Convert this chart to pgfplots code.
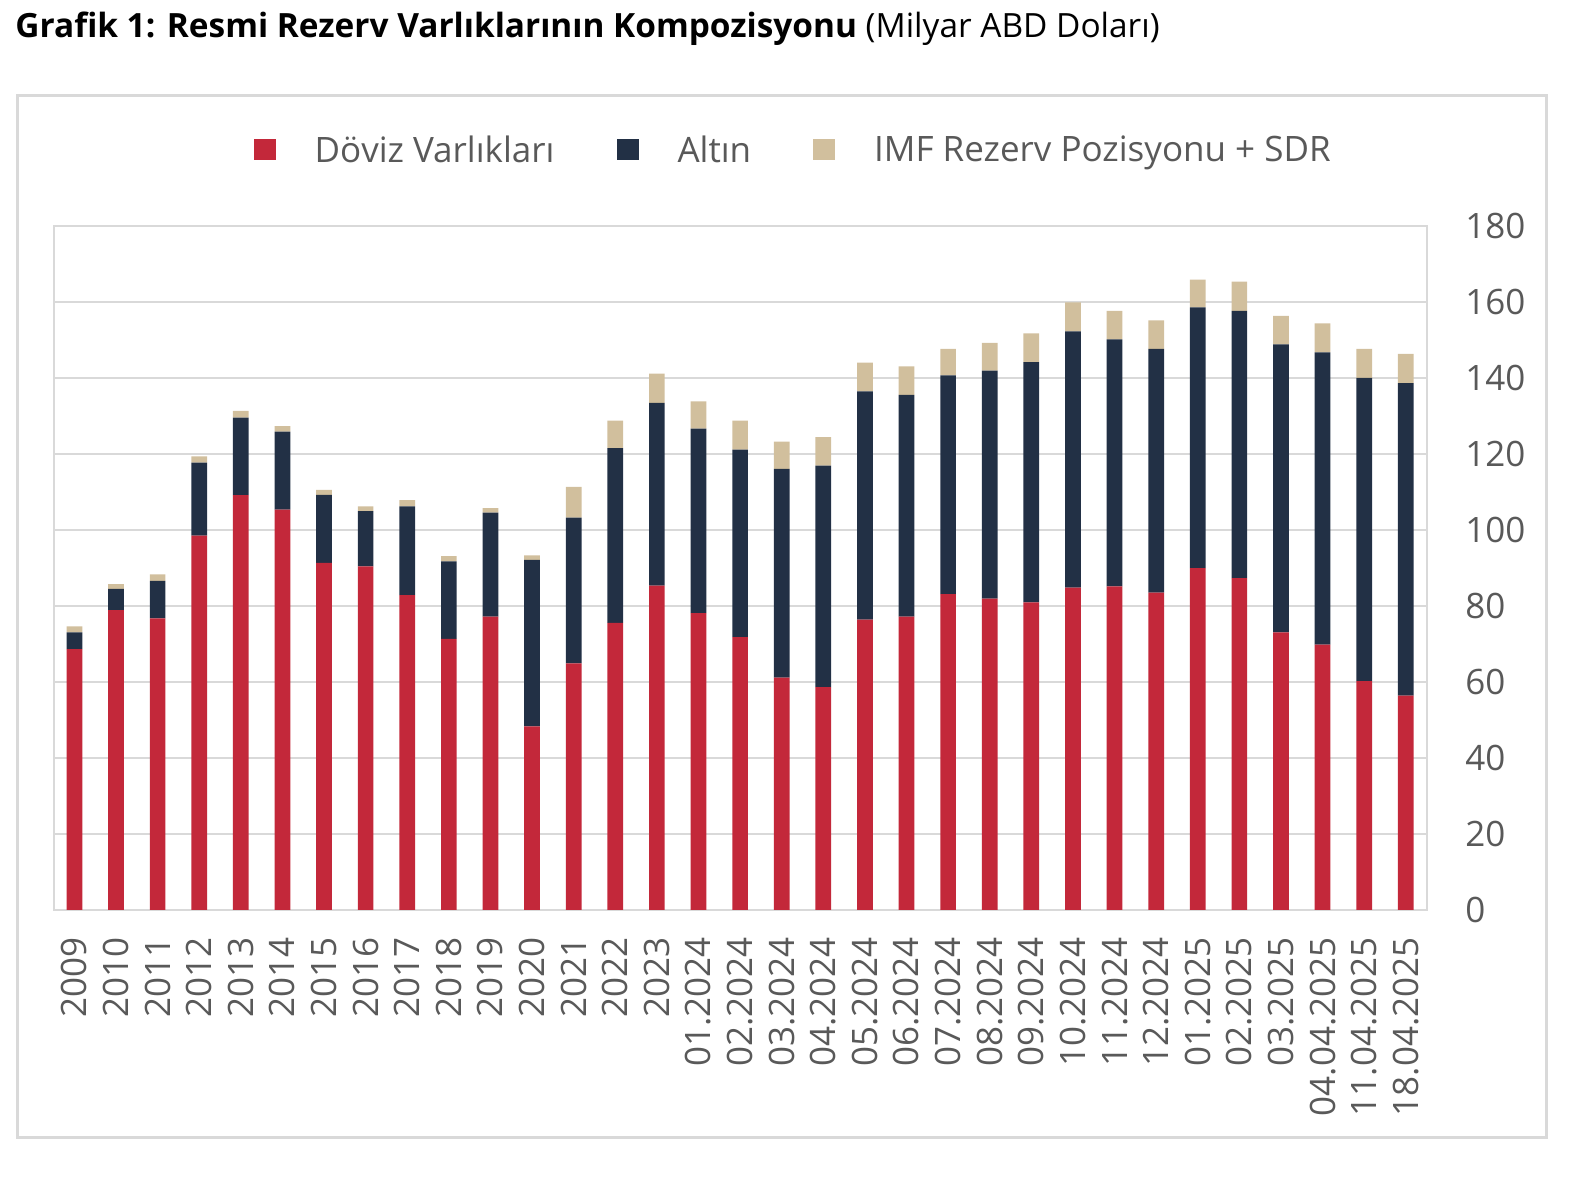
\documentclass[border=0pt]{standalone}
\usepackage{pgfplots}
\pgfplotsset{compat=1.18}
\usepackage{pgfplotstable}
\usepackage{fontspec}
\setmainfont{Open Sans}
\definecolor{cred}{HTML}{C3283A}
\definecolor{cnavy}{HTML}{223045}
\definecolor{ctan}{HTML}{D1BF9D}
\definecolor{ctext}{HTML}{595959}
\definecolor{cgrid}{HTML}{D9D9D9}
\pgfplotstableread{
idx doviz altin imf
0 68.6 4.4 1.6
1 78.9 5.6 1.2
2 76.7 9.9 1.7
3 98.5 19.2 1.6
4 109.1 20.4 1.8
5 105.3 20.5 1.5
6 91.3 17.9 1.3
7 90.4 14.5 1.3
8 82.8 23.4 1.6
9 71.3 20.4 1.4
10 77.2 27.3 1.2
11 48.3 43.8 1.2
12 64.9 38.3 8.1
13 75.5 46.0 7.2
14 85.3 48.1 7.7
15 78.1 48.5 7.2
16 71.8 49.3 7.6
17 61.1 54.9 7.2
18 58.6 58.3 7.5
19 76.4 60.0 7.6
20 77.2 58.3 7.5
21 83.1 57.5 7.0
22 81.9 60.0 7.3
23 80.9 63.2 7.6
24 84.8 67.4 7.6
25 85.1 65.0 7.5
26 83.5 64.1 7.5
27 89.9 68.6 7.3
28 87.3 70.3 7.7
29 73.0 75.8 7.5
30 69.8 76.9 7.6
31 60.2 79.8 7.6
32 56.4 82.2 7.7
}\datatable
\begin{document}
\begin{tikzpicture}
\path[use as bounding box] (0,0) rectangle (793pt,589pt);
\draw[cgrid, line width=1.5pt] (8.5pt,541pt) rectangle (773pt,20pt);
\node[anchor=base west, inner sep=0pt, font=\fontsize{16.7pt}{20pt}\selectfont] at (7.5pt,570.3pt)
  {\textbf{Grafik 1: Resmi Rezerv Varlıklarının Kompozisyonu} (Milyar ABD Doları)};
\begin{axis}[
  at={(26.8pt,134pt)}, anchor=south west,
  scale only axis, width=686.5pt, height=342.15pt,
  ybar stacked, bar width=7.85pt,
  xmin=-0.5, xmax=32.5, ymin=0, ymax=180,
  ytick={0,20,...,180},
  xtick={0,...,32},
  xticklabels={2009,2010,2011,2012,2013,2014,2015,2016,2017,2018,2019,2020,2021,2022,2023,01.2024,02.2024,03.2024,04.2024,05.2024,06.2024,07.2024,08.2024,09.2024,10.2024,11.2024,12.2024,01.2025,02.2025,03.2025,04.04.2025,11.04.2025,18.04.2025},
  major tick length=0pt,
  ymajorgrids, grid style={cgrid, line width=1pt},
  axis line style={cgrid, line width=1pt},
  yticklabel pos=right,
  /pgf/number format/assume math mode=true,
  yticklabel style={anchor=west, inner sep=0pt, xshift=19.2pt, text=ctext, font=\fontsize{17.5pt}{20pt}\selectfont},
  xticklabel style={rotate=90, anchor=east, inner sep=0pt, xshift=-13.5pt, text=ctext, font=\fontsize{17.5pt}{20pt}\selectfont},
  legend columns=-1,
  legend style={draw=none, fill=none, at={(0.141,1.110)}, anchor=west,
    nodes={inner sep=0pt, text=ctext, font=\fontsize{17.5pt}{20pt}\selectfont},
    /tikz/every even column/.append style={column sep=31pt}},
  legend image code/.code={\fill[#1,draw=none] (0pt,-5pt) rectangle (11pt,5.5pt); \path (30.5pt,0pt);},
]
\addplot[fill=cred, draw=none] table[x=idx, y=doviz] {\datatable};
\addplot[fill=cnavy, draw=none] table[x=idx, y=altin] {\datatable};
\addplot[fill=ctan, draw=none] table[x=idx, y=imf] {\datatable};
\legend{Döviz Varlıkları, Altın, IMF Rezerv Pozisyonu + SDR}
\end{axis}
\end{tikzpicture}
\end{document}
